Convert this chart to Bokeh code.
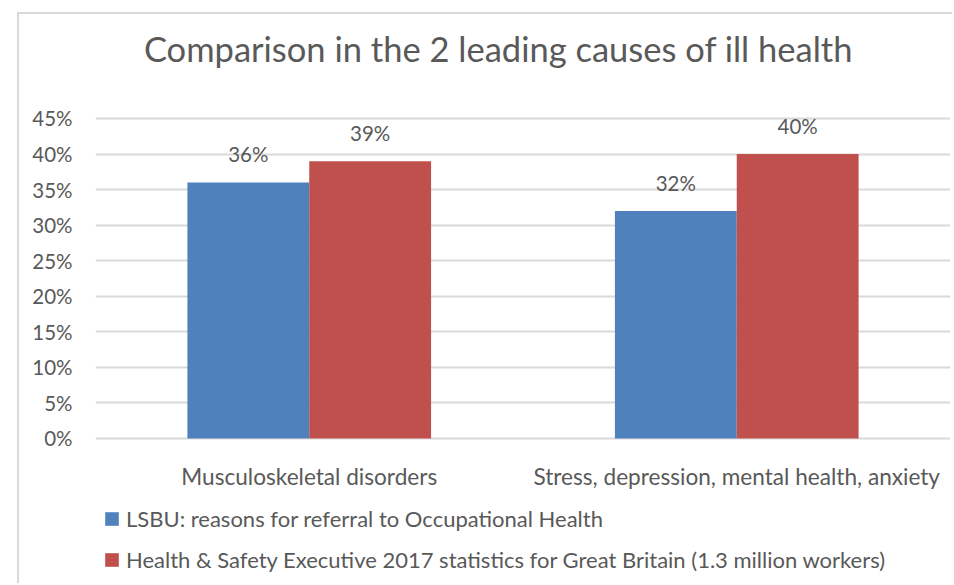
from bokeh.plotting import figure
from bokeh.models import ColumnDataSource, FactorRange, Legend, LegendItem, NumeralTickFormatter, FixedTicker, Range1d, Label
from bokeh.transform import dodge
from bokeh.core.properties import value
from bokeh.embed import file_html
from bokeh.resources import INLINE

title_text = "Comparison in the 2 leading causes of ill health"
categories = ["Musculoskeletal disorders", "Stress, depression, mental health, anxiety"]
lsbu = [0.36, 0.32]
hse = [0.39, 0.40]
series_names = ["LSBU: reasons for referral to Occupational Health",
                "Health & Safety Executive 2017 statistics for Great Britain (1.3 million workers)"]
y_ticks = [0, 0.05, 0.10, 0.15, 0.20, 0.25, 0.30, 0.35, 0.40, 0.45]

FONT = "Lato"
TXT = "#595959"
BLUE = "#4F81BD"
RED = "#C0504D"

src = ColumnDataSource(dict(
    cat=categories, lsbu=lsbu, hse=hse, base=[0, 0],
    lsbu_lbl=[f"{round(v*100)}%" for v in lsbu],
    hse_lbl=[f"{round(v*100)}%" for v in hse],
))

# frame covers the whole chart area so that title, category labels and legend can sit inside it
p = figure(width=935, height=571, x_range=FactorRange(*categories, range_padding=0),
           y_range=Range1d(-0.20672, 0.59625), output_backend="svg", toolbar_location=None,
           min_border_left=76, min_border_right=4, min_border_top=0, min_border_bottom=0)
p.margin = (12, 0, 0, 17)
p.styles = {"border-top": "2px solid #d9d9d9", "border-left": "2px solid #d9d9d9"}
p.outline_line_color = None
p.background_fill_color = "white"
p.border_fill_color = "white"

bw = 0.285
r1 = p.vbar(x=dodge("cat", -bw/2, range=p.x_range), top="lsbu", width=bw, source=src,
            fill_color=BLUE, line_color=None)
r2 = p.vbar(x=dodge("cat", bw/2, range=p.x_range), top="hse", width=bw, source=src,
            fill_color=RED, line_color=None)

for col, off in (("lsbu", -bw/2), ("hse", bw/2)):
    p.text(x=dodge("cat", off, range=p.x_range), y=col, text=col + "_lbl", source=src,
           text_align="center", text_baseline="bottom", y_offset=-16,
           text_font=value(FONT), text_font_size="20.5px", text_color=TXT)

# category labels under the baseline
p.text(x="cat", y="base", text="cat", source=src, text_align="center", text_baseline="middle",
       y_offset=38, text_font=value(FONT), text_font_size="22.6px", text_color=TXT)

p.yaxis.ticker = FixedTicker(ticks=y_ticks)
p.yaxis.formatter = NumeralTickFormatter(format="0%")
p.yaxis.axis_line_color = None
p.yaxis.major_tick_line_color = None
p.yaxis.minor_tick_line_color = None
p.yaxis.major_label_text_font = FONT
p.yaxis.major_label_text_font_size = "20.5px"
p.yaxis.major_label_text_color = TXT
p.yaxis.major_label_standoff = 17
p.xaxis.visible = False

p.xgrid.grid_line_color = None
p.ygrid.ticker = FixedTicker(ticks=y_ticks)
p.ygrid.grid_line_color = "#d9d9d9"
p.ygrid.grid_line_width = 2

p.add_layout(Label(x=403, y=537, x_units="screen", y_units="screen", text=title_text,
                   text_align="center", text_baseline="middle",
                   text_font=FONT, text_font_size="34.5px", text_color=TXT))

legend = Legend(items=[LegendItem(label=series_names[0], renderers=[r1]),
                       LegendItem(label=series_names[1], renderers=[r2])],
                location=(8, 12), orientation="vertical",
                glyph_width=17, glyph_height=17, spacing=14, padding=0, margin=0,
                label_text_font=FONT, label_text_font_size="22px", label_text_color=TXT,
                label_standoff=6, border_line_color=None, background_fill_alpha=0)
p.add_layout(legend, "center")

open("out.html", "w").write(file_html(p, INLINE))
